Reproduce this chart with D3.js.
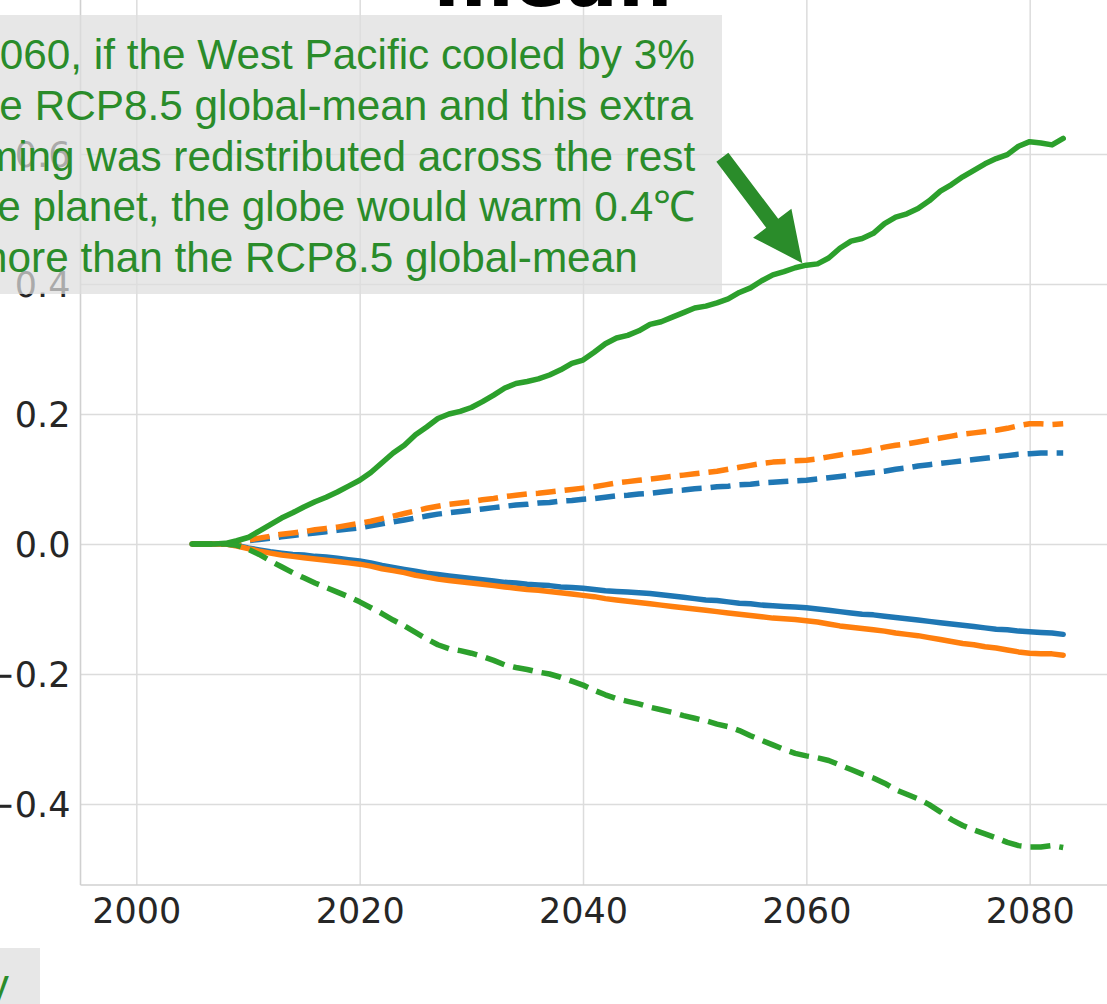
<!DOCTYPE html>
<html>
<head>
<meta charset="utf-8">
<script src="https://cdn.jsdelivr.net/npm/d3@7"></script>
<style>
  html, body { margin: 0; padding: 0; background: #fff; overflow: hidden; }
  svg { display: block; }
</style>
</head>
<body>
<svg id="chart" width="1107" height="1004"></svg>
<script>
// Years shared by every series
const years = d3.range(2005, 2084);

// Temperature anomaly relative to the RCP8.5 global-mean (°C)
const blueSolid = [0,0,0,0,-0.002,-0.006,-0.009,-0.012,-0.014,-0.016,-0.017,-0.019,-0.02,-0.022,-0.024,-0.026,-0.029,-0.033,-0.036,-0.039,-0.042,-0.045,-0.047,-0.049,-0.051,-0.053,-0.055,-0.057,-0.059,-0.06,-0.062,-0.063,-0.064,-0.066,-0.067,-0.068,-0.07,-0.072,-0.073,-0.074,-0.075,-0.076,-0.078,-0.08,-0.082,-0.084,-0.086,-0.087,-0.089,-0.091,-0.092,-0.094,-0.095,-0.096,-0.097,-0.098,-0.1,-0.102,-0.104,-0.106,-0.108,-0.109,-0.111,-0.113,-0.115,-0.117,-0.119,-0.121,-0.123,-0.125,-0.127,-0.129,-0.131,-0.132,-0.134,-0.135,-0.136,-0.137,-0.139];
const blueDashed = [0,0,0,0,0.002,0.005,0.007,0.009,0.011,0.013,0.015,0.017,0.019,0.021,0.023,0.025,0.028,0.031,0.034,0.037,0.04,0.043,0.046,0.048,0.05,0.052,0.054,0.056,0.058,0.06,0.061,0.063,0.064,0.066,0.067,0.069,0.07,0.072,0.074,0.075,0.077,0.078,0.08,0.082,0.083,0.085,0.086,0.088,0.089,0.091,0.092,0.094,0.095,0.096,0.097,0.098,0.1,0.102,0.104,0.106,0.108,0.11,0.112,0.115,0.117,0.12,0.122,0.124,0.126,0.128,0.13,0.132,0.134,0.136,0.138,0.139,0.14,0.14,0.14];
const orangeSolid = [0,0,0,0,-0.003,-0.007,-0.011,-0.014,-0.017,-0.019,-0.021,-0.023,-0.025,-0.027,-0.029,-0.031,-0.034,-0.038,-0.041,-0.044,-0.048,-0.051,-0.054,-0.056,-0.058,-0.06,-0.062,-0.064,-0.066,-0.068,-0.07,-0.071,-0.073,-0.075,-0.077,-0.079,-0.081,-0.084,-0.086,-0.088,-0.09,-0.092,-0.094,-0.096,-0.098,-0.1,-0.102,-0.104,-0.106,-0.108,-0.11,-0.112,-0.114,-0.115,-0.116,-0.118,-0.12,-0.123,-0.126,-0.128,-0.13,-0.132,-0.134,-0.137,-0.139,-0.141,-0.144,-0.147,-0.15,-0.153,-0.155,-0.158,-0.16,-0.163,-0.166,-0.168,-0.169,-0.169,-0.171];
const orangeDashed = [0,0,0,0,0.003,0.006,0.009,0.012,0.015,0.017,0.019,0.022,0.024,0.026,0.029,0.032,0.035,0.039,0.043,0.047,0.051,0.055,0.058,0.061,0.063,0.065,0.068,0.07,0.073,0.075,0.077,0.078,0.08,0.082,0.084,0.086,0.088,0.091,0.094,0.096,0.098,0.1,0.102,0.104,0.106,0.108,0.11,0.112,0.115,0.118,0.121,0.124,0.126,0.127,0.128,0.129,0.131,0.134,0.137,0.14,0.142,0.145,0.149,0.152,0.154,0.157,0.16,0.163,0.166,0.169,0.171,0.173,0.175,0.178,0.182,0.185,0.185,0.184,0.185];
const greenSolid = [0,0,0,0.001,0.005,0.01,0.02,0.03,0.04,0.048,0.057,0.065,0.072,0.08,0.089,0.098,0.11,0.125,0.14,0.152,0.168,0.18,0.193,0.2,0.204,0.21,0.219,0.229,0.24,0.247,0.25,0.254,0.26,0.268,0.278,0.283,0.295,0.308,0.317,0.321,0.328,0.338,0.342,0.349,0.356,0.363,0.366,0.371,0.377,0.387,0.394,0.405,0.414,0.419,0.425,0.429,0.431,0.44,0.455,0.466,0.47,0.478,0.493,0.503,0.508,0.516,0.528,0.543,0.553,0.565,0.575,0.585,0.593,0.599,0.612,0.619,0.617,0.614,0.624];
const greenDashed = [0,0,0,0,-0.002,-0.008,-0.016,-0.026,-0.035,-0.044,-0.052,-0.06,-0.067,-0.074,-0.081,-0.089,-0.098,-0.107,-0.117,-0.126,-0.136,-0.146,-0.155,-0.161,-0.164,-0.168,-0.173,-0.179,-0.186,-0.19,-0.193,-0.197,-0.2,-0.205,-0.211,-0.217,-0.225,-0.232,-0.238,-0.242,-0.246,-0.251,-0.255,-0.259,-0.264,-0.268,-0.272,-0.277,-0.281,-0.287,-0.295,-0.302,-0.309,-0.316,-0.322,-0.326,-0.329,-0.333,-0.34,-0.347,-0.354,-0.36,-0.368,-0.378,-0.385,-0.392,-0.401,-0.412,-0.424,-0.433,-0.44,-0.446,-0.452,-0.459,-0.464,-0.466,-0.466,-0.464,-0.467];

// Tick values
const xTicks = [2000, 2020, 2040, 2060, 2080];
const yTicks = [-0.4, -0.2, 0.0, 0.2, 0.4, 0.6];

// Annotation text
const noteLines = [
  "By 2060, if the West Pacific cooled by 3%",
  "of the RCP8.5 global-mean and this extra",
  "warming was redistributed across the rest",
  "of the planet, the globe would warm 0.4\u2103",
  "more than the RCP8.5 global-mean"
];
const noteYear = 2060;

const palette = { blue: "#1f77b4", orange: "#ff7f0e", green: "#2ca02c" };
const series = [
  { values: blueSolid,    color: palette.blue,   dashed: false },
  { values: blueDashed,   color: palette.blue,   dashed: true },
  { values: orangeSolid,  color: palette.orange, dashed: false },
  { values: orangeDashed, color: palette.orange, dashed: true },
  { values: greenSolid,   color: palette.green,  dashed: false },
  { values: greenDashed,  color: palette.green,  dashed: true }
];

const svg = d3.select("#chart");

// Plot frame
const plotLeft = 80.5, plotBottom = 885;
const pxPerYear = 11.167, pxPerUnit = 650;
const x = d3.scaleLinear().domain([1995, 2090]).range([plotLeft, plotLeft + 95 * pxPerYear]);
const y = d3.scaleLinear().domain([-0.5246, 0.9]).range([plotBottom, plotBottom - 1.4246 * pxPerUnit]);

const tickFont = "'DejaVu Sans', sans-serif";
const gridColor = "#dcdcdc";

// Gridlines via axes with full-length ticks
svg.append("g")
  .attr("transform", `translate(0,${plotBottom})`)
  .call(d3.axisBottom(x).tickValues(xTicks).tickSize(-(plotBottom + 20)).tickFormat(""))
  .call(g => g.select(".domain").remove())
  .call(g => g.selectAll("line").attr("stroke", gridColor).attr("stroke-width", 1.5));

svg.append("g")
  .attr("transform", `translate(${plotLeft},0)`)
  .call(d3.axisLeft(y).tickValues(yTicks).tickSize(-1200).tickFormat(""))
  .call(g => g.select(".domain").remove())
  .call(g => g.selectAll("line").attr("stroke", gridColor).attr("stroke-width", 1.5));

// Spines
svg.append("line").attr("x1", plotLeft).attr("x2", plotLeft).attr("y1", 0).attr("y2", plotBottom)
  .attr("stroke", "#d0d0d0").attr("stroke-width", 1.6);
svg.append("line").attr("x1", plotLeft).attr("x2", 1107).attr("y1", plotBottom).attr("y2", plotBottom)
  .attr("stroke", "#d0d0d0").attr("stroke-width", 1.6);

// Tick labels
const xAxis = svg.append("g")
  .attr("transform", `translate(0,${plotBottom})`)
  .call(d3.axisBottom(x).tickValues(xTicks).tickSize(0).tickPadding(0).tickFormat(d3.format("d")));
xAxis.select(".domain").remove();
xAxis.selectAll("text")
  .attr("dy", null).attr("y", 38)
  .attr("font-family", tickFont).attr("font-size", 35).attr("fill", "#262626");

const fmtY = d => d3.format(".1f")(d).replace("-", "\u2212");
const yAxis = svg.append("g")
  .attr("transform", `translate(${plotLeft},0)`)
  .call(d3.axisLeft(y).tickValues(yTicks).tickSize(0).tickPadding(10).tickFormat(fmtY));
yAxis.select(".domain").remove();
yAxis.selectAll("text")
  .attr("dy", "0.36em")
  .attr("font-family", tickFont).attr("font-size", 35).attr("fill", "#262626");

// Series lines
const line = d3.line().x((d, i) => x(years[i])).y(d => y(d)).curve(d3.curveLinear);
series.forEach(s => {
  svg.append("path")
    .datum(s.values)
    .attr("d", line)
    .attr("fill", "none")
    .attr("stroke", s.color)
    .attr("stroke-width", 5.5)
    .attr("stroke-linejoin", "round")
    .attr("stroke-linecap", s.dashed ? "butt" : "round")
    .attr("stroke-dasharray", s.dashed ? "20,9" : null);
});

// Title (partly above the frame)
svg.append("text")
  .attr("x", 553).attr("y", 6)
  .attr("text-anchor", "middle")
  .attr("font-family", tickFont).attr("font-weight", "bold").attr("font-size", 77)
  .attr("fill", "#000")
  .text("mean");

// Annotation box
const noteGreen = "#2a8c2a";
svg.append("rect")
  .attr("x", -120).attr("y", 15).attr("width", 842).attr("height", 279)
  .attr("fill", "#dedede").attr("fill-opacity", 0.72);

const note = svg.append("text")
  .attr("font-family", "'Liberation Sans', Arial, sans-serif")
  .attr("font-size", 42.3)
  .attr("fill", noteGreen)
  .attr("text-anchor", "middle");
noteLines.forEach((t, i) => {
  note.append("tspan").attr("x", 305).attr("y", 69 + i * 50.8).text(t);
});

// Arrow pointing at the green curve in the noted year
const tip = [x(noteYear) - 4, y(greenSolid[years.indexOf(noteYear)]) - 2];
const tail = [tip[0] - 80, tip[1] - 106];
const dx = tip[0] - tail[0], dy = tip[1] - tail[1];
const len = Math.hypot(dx, dy);
const ux = dx / len, uy = dy / len, px = -uy, py = ux;
const headLen = 50, headHalf = 24, shaftHalf = 7.5;
const base = [tip[0] - ux * headLen, tip[1] - uy * headLen];
const arrowPts = [
  [tail[0] + px * shaftHalf, tail[1] + py * shaftHalf],
  [base[0] + px * shaftHalf, base[1] + py * shaftHalf],
  [base[0] + px * headHalf, base[1] + py * headHalf],
  tip,
  [base[0] - px * headHalf, base[1] - py * headHalf],
  [base[0] - px * shaftHalf, base[1] - py * shaftHalf],
  [tail[0] - px * shaftHalf, tail[1] - py * shaftHalf]
];
svg.append("path")
  .attr("d", d3.line()(arrowPts) + "Z")
  .attr("fill", noteGreen);

// Second annotation at lower left
svg.append("rect")
  .attr("x", -400).attr("y", 948).attr("width", 440).attr("height", 80)
  .attr("fill", "#dedede").attr("fill-opacity", 0.72);
svg.append("text")
  .attr("x", 9).attr("y", 999)
  .attr("text-anchor", "end")
  .attr("font-family", "'Liberation Sans', Arial, sans-serif")
  .attr("font-size", 42.3)
  .attr("fill", noteGreen)
  .text("West Pacific only");
</script>
</body>
</html>
